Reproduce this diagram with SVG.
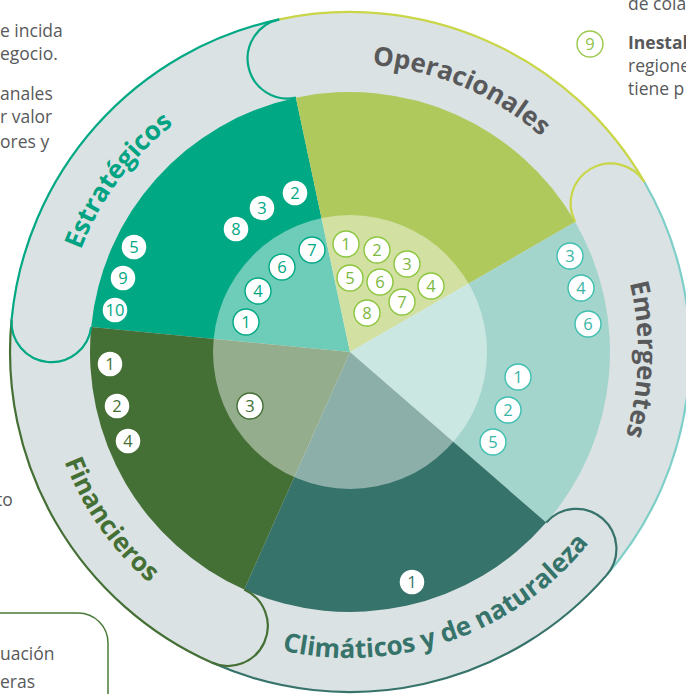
<svg xmlns="http://www.w3.org/2000/svg" width="686" height="694" viewBox="0 0 686 694">
<defs>
<style>
.lbl{font-family:"Open Sans","Noto Sans",sans-serif;font-weight:700;font-size:26px}
.num{font-family:"Open Sans","Noto Sans",sans-serif;font-size:16.5px;text-anchor:middle}
.side{font-family:"Open Sans","Noto Sans",sans-serif;font-size:17.5px;fill:#58595b}
.num circle{fill:#fff;stroke-width:1.4}
.ne circle{stroke:#00a884}.ne text{fill:#00a884}
.no circle{stroke:#8cc63f}.no text{fill:#7cb83e}
.nm circle{stroke:#3fbfb0}.nm text{fill:#3ab5a6}
.nc circle{stroke:#36736a}.nc text{fill:#36736a}
.nf circle{stroke:#446f35}.nf text{fill:#446f35}
.edge{fill:none;stroke-width:2.2}
</style>
<path id="pE" d="M63.9,384.6 A288,288 0 0 1 297.5,68.8"/>
<path id="pO" d="M251.5,81.4 A288,288 0 0 1 613.1,234.9"/>
<path id="pM" d="M570.6,166.9 A288,288 0 0 1 560.6,548.4"/>
<path id="pC" d="M193.7,615.1 A306,306 0 0 0 636.2,460.2"/>
<path id="pF" d="M45.2,325.3 A306,306 0 0 0 270.8,647.6"/>
</defs>

<!-- side texts -->
<g id="side-text" class="side">
<text x="0" y="37">e incida</text>
<text x="0" y="60">egocio.</text>
<text x="0" y="100">anales</text>
<text x="0" y="123">r valor</text>
<text x="0" y="148">ores y</text>
<text x="-4" y="506">to</text>
<text x="0" y="660">uación</text>
<text x="0" y="688">eras</text>
<text x="628" y="10">de cola</text>
<text x="628" y="49" font-weight="700">Inestab</text>
<text x="628" y="72">regione</text>
<text x="628" y="95">tiene p</text>
</g>
<path id="box" d="M0,613 H78 A30,30 0 0 1 108,643 V700" fill="none" stroke="#4a7a3a" stroke-width="1.5"/>
<g id="legend9" class="num"><circle cx="590" cy="44" r="13" fill="#fff" stroke="#9bc94b"/><text x="590" y="50" fill="#8cc34a">9</text></g>

<!-- ring -->
<circle id="ring" cx="350" cy="352" r="340" fill="#dbe2e3"/>

<g id="sectors">
<path d="M350,352 L91.2,327.1 A260,260 0 0 1 295.9,97.7 Z" fill="#00a884"/>
<path d="M350,352 L295.9,97.7 A260,260 0 0 1 575.2,222 Z" fill="#b0c95c"/>
<path d="M350,352 L575.2,222 A260,260 0 0 1 546.2,522.6 Z" fill="#a4d5cd"/>
<path d="M350,352 L546.2,522.6 A260,260 0 0 1 244.2,589.5 Z" fill="#36736a"/>
<path d="M350,352 L244.2,589.5 A260,260 0 0 1 91.2,327.1 Z" fill="#446f35"/>
<circle cx="350" cy="352" r="137" fill="#fff" fill-opacity="0.43"/>
</g>

<g id="connectors">
<path class="edge" stroke="#00a884" d="M11.6,319.4 A340,340 0 0 1 279.3,19.4"/>
<path class="edge" stroke="#c8d647" d="M279.3,19.4 A340,340 0 0 1 644.4,182"/>
<path class="edge" stroke="#7ecfc7" d="M644.4,182 A340,340 0 0 1 606.6,575.1"/>
<path class="edge" stroke="#36736a" d="M606.6,575.1 A340,340 0 0 1 211.7,662.6"/>
<path class="edge" stroke="#446f35" d="M211.7,662.6 A340,340 0 0 1 11.6,319.4"/>
<path class="edge" stroke="#00a884" d="M279.3,19.4 A40,40 0 0 0 295.9,97.7"/>
<path class="edge" stroke="#00a884" d="M11.6,319.4 A40,40 0 0 0 91.2,327.1"/>
<path class="edge" stroke="#c8d647" d="M644.4,182 A40,40 0 0 0 575.2,222"/>
<path class="edge" stroke="#36736a" d="M606.6,575.1 A40,40 0 0 0 546.2,522.6"/>
<path class="edge" stroke="#446f35" d="M211.7,662.6 A40,40 0 0 0 244.2,589.5"/>
</g>

<g id="estrategicos">
<text class="lbl" fill="#00a382"><textPath href="#pE" startOffset="50%" text-anchor="middle">Estratégicos</textPath></text>
<g class="num ne">
<circle cx="295" cy="193" r="13"/><text x="295" y="199">2</text>
<circle cx="262" cy="208" r="13"/><text x="262" y="214">3</text>
<circle cx="236" cy="229" r="13"/><text x="236" y="235">8</text>
<circle cx="134" cy="247" r="13"/><text x="134" y="253">5</text>
<circle cx="123" cy="278" r="13"/><text x="123" y="284">9</text>
<circle cx="115" cy="310" r="13"/><text x="115" y="316">10</text>
<circle cx="312" cy="250" r="13"/><text x="312" y="256">7</text>
<circle cx="282" cy="267" r="13"/><text x="282" y="273">6</text>
<circle cx="258" cy="291" r="13"/><text x="258" y="297">4</text>
<circle cx="246" cy="322" r="13"/><text x="246" y="328">1</text>
</g>
</g>

<g id="operacionales">
<text class="lbl" fill="#58595b"><textPath href="#pO" startOffset="50%" text-anchor="middle">Operacionales</textPath></text>
<g class="num no">
<circle cx="346" cy="244" r="13"/><text x="346" y="250">1</text>
<circle cx="377" cy="250" r="13"/><text x="377" y="256">2</text>
<circle cx="407" cy="264" r="13"/><text x="407" y="270">3</text>
<circle cx="350" cy="278" r="13"/><text x="350" y="284">5</text>
<circle cx="380" cy="282" r="13"/><text x="380" y="288">6</text>
<circle cx="431" cy="286" r="13"/><text x="431" y="292">4</text>
<circle cx="402" cy="302" r="13"/><text x="402" y="308">7</text>
<circle cx="367" cy="313" r="13"/><text x="367" y="319">8</text>
</g>
</g>

<g id="emergentes">
<text class="lbl" fill="#58595b"><textPath href="#pM" startOffset="50%" text-anchor="middle">Emergentes</textPath></text>
<g class="num nm">
<circle cx="570" cy="256" r="13"/><text x="570" y="262">3</text>
<circle cx="581" cy="288" r="13"/><text x="581" y="294">4</text>
<circle cx="588" cy="324" r="13"/><text x="588" y="330">6</text>
<circle cx="518" cy="377" r="13"/><text x="518" y="383">1</text>
<circle cx="508" cy="410" r="13"/><text x="508" y="416">2</text>
<circle cx="493" cy="442" r="13"/><text x="493" y="448">5</text>
</g>
</g>

<g id="climaticos">
<text class="lbl" fill="#36736a"><textPath href="#pC" startOffset="50%" text-anchor="middle">Climáticos y de naturaleza</textPath></text>
<g class="num nc">
<circle cx="412" cy="582" r="13"/><text x="412" y="588">1</text>
</g>
</g>

<g id="financieros">
<text class="lbl" fill="#446f35"><textPath href="#pF" startOffset="50%" text-anchor="middle">Financieros</textPath></text>
<g class="num nf">
<circle cx="110" cy="364" r="13"/><text x="110" y="370">1</text>
<circle cx="117" cy="406" r="13"/><text x="117" y="412">2</text>
<circle cx="128" cy="441" r="13"/><text x="128" y="447">4</text>
<circle cx="250" cy="406" r="13"/><text x="250" y="412">3</text>
</g>
</g>
</svg>
